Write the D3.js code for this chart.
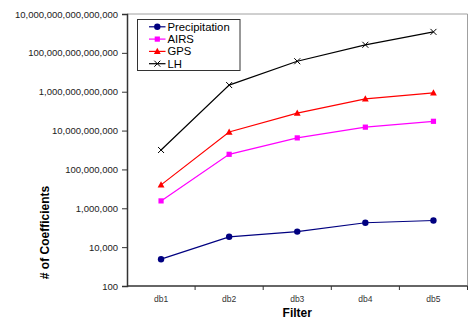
<!DOCTYPE html>
<html>
<head>
<meta charset="utf-8">
<script src="https://cdn.jsdelivr.net/npm/d3@7"></script>
<style>
  body { margin: 0; background: #fff; }
  svg { font-family: "Liberation Sans", Arial, sans-serif; }
</style>
</head>
<body>
<div id="chart"></div>
<script>
// data
const filters = ["db1", "db2", "db3", "db4", "db5"];
const precipitation = [2400, 34000, 63000, 180000, 235000];
const airs = [2.4e6, 6e8, 4.2e9, 1.5e10, 3e10];
const gps = [1.6e7, 8.4e9, 7.9e10, 4.3e11, 8.7e11];
const lh = [1e9, 2.2e12, 3.7e13, 2.6e14, 1.2e15];
const yTicks = [1e2, 1e4, 1e6, 1e8, 1e10, 1e12, 1e14, 1e16];

const series = [
  { name: "Precipitation", values: precipitation, color: "#000080", marker: "circle" },
  { name: "AIRS", values: airs, color: "#ff00ff", marker: "square" },
  { name: "GPS", values: gps, color: "#ff0000", marker: "triangle" },
  { name: "LH", values: lh, color: "#000000", marker: "x" }
];

const width = 469, height = 320;
const margin = { top: 14, right: 1.5, bottom: 34, left: 127 };

const svg = d3.select("#chart").append("svg")
  .attr("width", width).attr("height", height);

const x = d3.scaleBand().domain(filters)
  .range([margin.left, width - margin.right]);
const y = d3.scaleLog().domain([1e2, 1e16])
  .range([height - margin.bottom, margin.top]);

// plot frame (top and right in grey)
svg.append("path")
  .attr("d", `M${margin.left},${margin.top}H${width - margin.right}V${height - margin.bottom}`)
  .attr("fill", "none").attr("stroke", "#a0a0a0").attr("stroke-width", 1);

// y axis - big integers with thousands separators
const fmt = d => BigInt(Math.round(d)).toString().replace(/\B(?=(\d{3})+(?!\d))/g, ",");
const yAxis = svg.append("g")
  .attr("transform", `translate(${margin.left},0)`)
  .call(d3.axisLeft(y).tickValues(yTicks).tickFormat(fmt).tickSize(5).tickPadding(4));
yAxis.select(".domain").attr("stroke", "#333").attr("stroke-width", 1.5);
yAxis.selectAll(".tick line").attr("stroke", "#333");
yAxis.selectAll("text").attr("fill", "#222").style("font-size", "9.5px");

// x axis, ticks on band edges
const xAxis = svg.append("g")
  .attr("transform", `translate(0,${height - margin.bottom})`);
xAxis.append("line")
  .attr("x1", margin.left).attr("x2", width - margin.right)
  .attr("stroke", "#333").attr("stroke-width", 1.5);
xAxis.selectAll(".edge").data(filters)
  .join("line").attr("class", "edge")
  .attr("x1", d => x(d) + x.bandwidth())
  .attr("x2", d => x(d) + x.bandwidth())
  .attr("y1", 0).attr("y2", 4)
  .attr("stroke", "#333");
xAxis.selectAll(".lbl").data(filters)
  .join("text").attr("class", "lbl")
  .attr("x", d => x(d) + x.bandwidth() / 2)
  .attr("y", 16)
  .attr("text-anchor", "middle")
  .attr("fill", "#333")
  .style("font-size", "8.5px")
  .text(d => d);

// axis titles
svg.append("text")
  .attr("x", x("db3") + x.bandwidth() / 2).attr("y", 317)
  .attr("text-anchor", "middle")
  .style("font-size", "12px").style("font-weight", "bold")
  .text("Filter");
svg.append("text")
  .attr("transform", "translate(49,232.5) rotate(-90)")
  .attr("text-anchor", "middle")
  .style("font-size", "12px").style("font-weight", "bold")
  .text("# of Coefficients");

// marker drawing
function drawMarker(g, type, color) {
  if (type === "circle") {
    g.append("circle").attr("r", 3.2).attr("fill", color);
  } else if (type === "square") {
    g.append("rect").attr("x", -2.6).attr("y", -2.6).attr("width", 5.2).attr("height", 5.2).attr("fill", color);
  } else if (type === "triangle") {
    g.append("path").attr("d", "M0,-3.6L3.4,2.6L-3.4,2.6Z").attr("fill", color);
  } else {
    g.append("path").attr("d", "M-3,-3L3,3M-3,3L3,-3").attr("stroke", color).attr("stroke-width", 1);
  }
}

const line = d3.line()
  .x((d, i) => x(filters[i]) + x.bandwidth() / 2)
  .y(d => y(d));

series.forEach(s => {
  svg.append("path")
    .attr("d", line(s.values))
    .attr("fill", "none").attr("stroke", s.color).attr("stroke-width", 1.2);
  s.values.forEach((v, i) => {
    const g = svg.append("g")
      .attr("transform", `translate(${x(filters[i]) + x.bandwidth() / 2},${y(v)})`);
    drawMarker(g, s.marker, s.color);
  });
});

// legend
const legend = svg.append("g");
legend.append("rect")
  .attr("x", 137.5).attr("y", 19.5).attr("width", 102.5).attr("height", 51)
  .attr("fill", "#fff").attr("stroke", "#333").attr("stroke-width", 1);
series.forEach((s, i) => {
  const ly = 26.8 + i * 12.3;
  legend.append("line")
    .attr("x1", 149).attr("x2", 165.5).attr("y1", ly).attr("y2", ly)
    .attr("stroke", s.color).attr("stroke-width", 1.2);
  const g = legend.append("g").attr("transform", `translate(157.3,${ly})`);
  drawMarker(g, s.marker, s.color);
  legend.append("text")
    .attr("x", 167.5).attr("y", ly + 4)
    .style("font-size", "11.3px")
    .text(s.name);
});
</script>
</body>
</html>
